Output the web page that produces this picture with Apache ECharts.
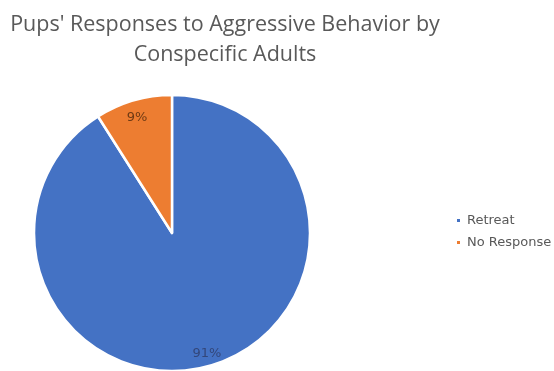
<!DOCTYPE html>
<html><head><meta charset="utf-8">
<script src="https://cdn.jsdelivr.net/npm/echarts@6/dist/echarts.min.js"></script>
<style>html,body{margin:0;padding:0;background:#fff}#c{width:554px;height:371px}</style>
</head><body><div id="c"></div>
<script>
const categories = ["Retreat", "No Response"];
const values = [91, 9];
const colors = ["#4472C4", "#ED7D31"];
const labelColors = ["#33477A", "#6E3A14"];
const titleText = "Pups' Responses to Aggressive Behavior by\nConspecific Adults";

const data = categories.map((c, i) => ({ name: c, value: values[i], itemStyle: { color: colors[i] } }));
const labelData = categories.map((c, i) => ({ name: c, value: values[i], label: { color: labelColors[i] } }));

const chart = echarts.init(document.getElementById('c'), null, { renderer: 'canvas' });
chart.setOption({
  animation: false,
  title: {
    text: titleText,
    left: 220, top: 5, textAlign: 'center',
    textStyle: { fontFamily: 'Open Sans', fontSize: 21.5, fontWeight: 'normal', color: '#595959', lineHeight: 30 }
  },
  legend: {
    orient: 'vertical', left: 455, top: 214, itemWidth: 5, itemHeight: 5, itemGap: 9,
    icon: 'rect', padding: 0,
    textStyle: { fontFamily: 'DejaVu Sans', fontSize: 13, lineHeight: 13, color: '#595959', padding: [0, 0, 0, 1] },
    data: categories
  },
  series: [
    {
      type: 'pie', center: [172, 233], radius: [0, 138], startAngle: 90, clockwise: true,
      itemStyle: { borderColor: '#fff', borderWidth: 2.5 },
      label: { show: false }, labelLine: { show: false }, silent: true,
      data: data
    },
    {
      type: 'pie', center: [172, 233], radius: [102, 142], startAngle: 90, clockwise: true,
      itemStyle: { color: 'rgba(0,0,0,0)' }, silent: true, legendHoverLink: false,
      label: { show: true, position: 'inside', formatter: '{c}%', fontFamily: 'DejaVu Sans', fontSize: 13 },
      labelLine: { show: false },
      labelLayout: function (p) { return p.dataIndex === 1 ? { dy: 5 } : { dy: 1 }; },
      data: labelData
    }
  ]
});
</script></body></html>
